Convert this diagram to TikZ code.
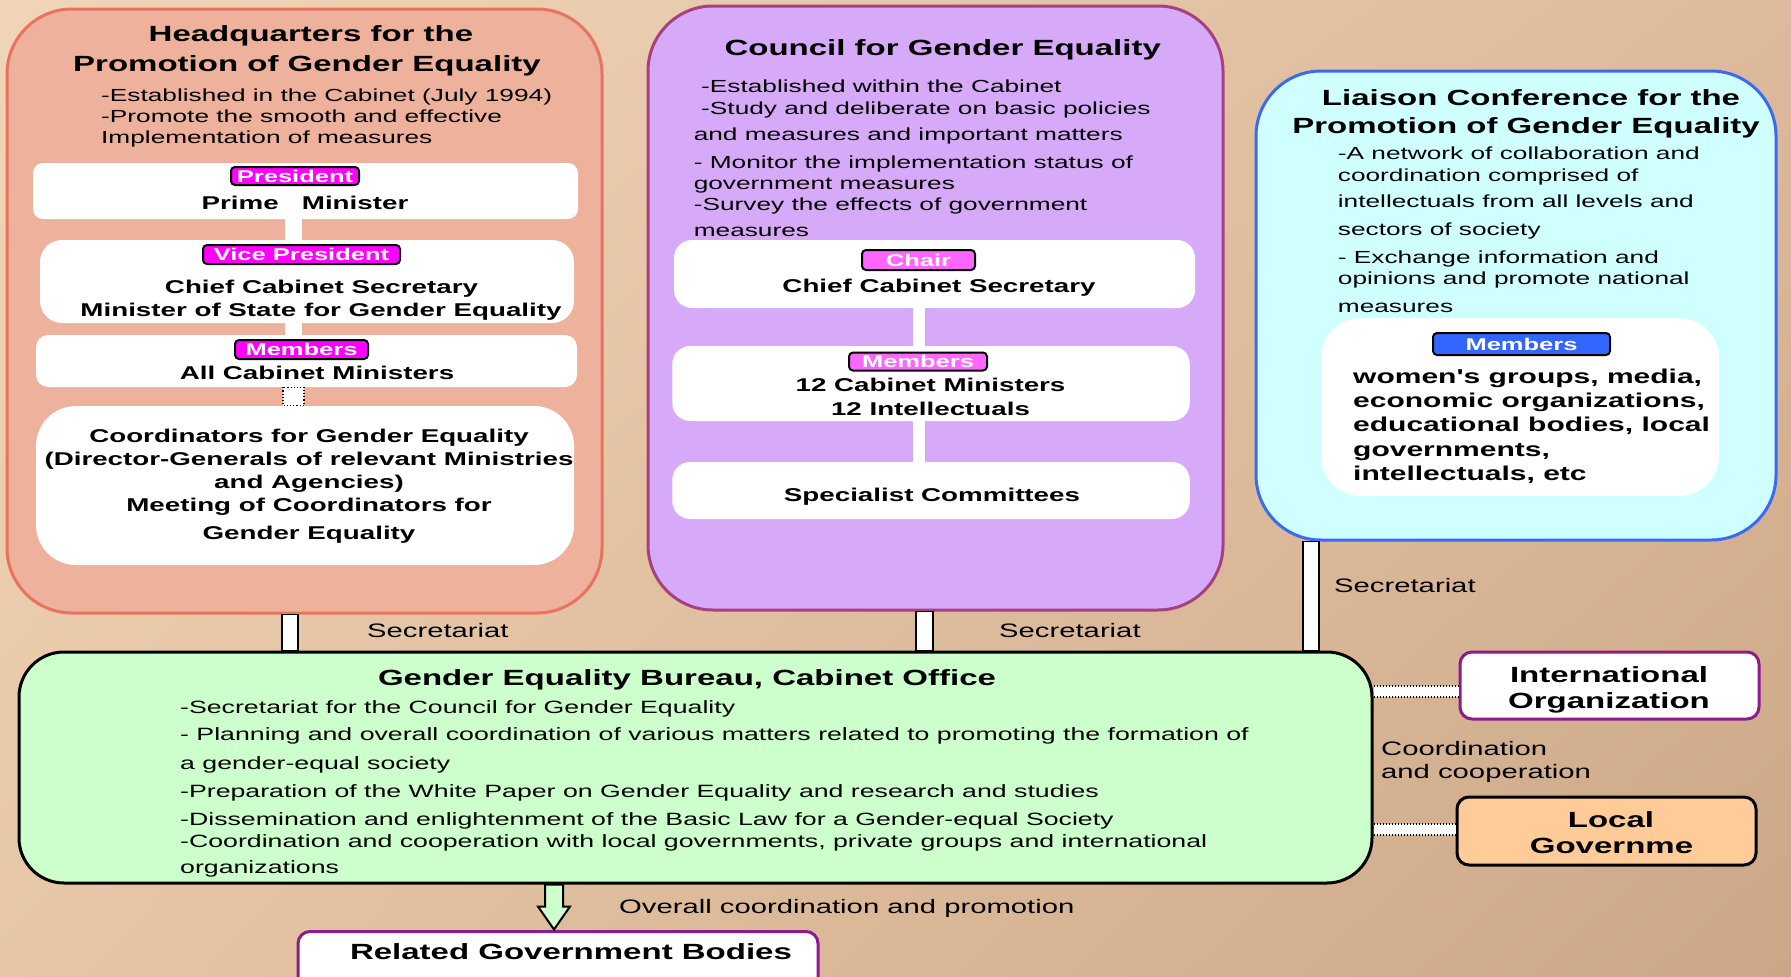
\documentclass[tikz,border=0pt]{standalone}
\usepackage{fontspec}
\setmainfont{Liberation Sans}[FakeStretch=1.5, Ligatures=TeXOff]
\usetikzlibrary{shadings}

\definecolor{bgA}{HTML}{F1D5B8}
\definecolor{bgB}{HTML}{DDBA9B}
\definecolor{bgC}{HTML}{E6C6A6}
\definecolor{bgD}{HTML}{CBA787}
\definecolor{hqfill}{HTML}{EDB19C}
\definecolor{hqline}{HTML}{E9735E}
\definecolor{hqtag}{HTML}{FF00FF}
\definecolor{cgfill}{HTML}{D7AAF9}
\definecolor{cgline}{HTML}{A5427D}
\definecolor{cgtag}{HTML}{FF66FF}
\definecolor{lcfill}{HTML}{CFFFFF}
\definecolor{lcline}{HTML}{3A6AF0}
\definecolor{lctag}{HTML}{3366FF}
\definecolor{gbfill}{HTML}{CCFFCC}
\definecolor{lgfill}{HTML}{FFCC99}
\definecolor{purp}{HTML}{8E1B8E}

\begin{document}
\begin{tikzpicture}[x=1pt, y=-1pt,
    outer/.style={line width=3, inner sep=0},
    inbox/.style={fill=white, inner sep=0},
    tag/.style={draw=black, line width=2, rounded corners=4, inner sep=0, text=white,
      font=\bfseries\fontsize{17}{17}\selectfont},
    ttl/.style={inner sep=0, anchor=base, font=\bfseries\fontsize{22}{22}\selectfont},
    strong/.style={inner sep=0, anchor=base, font=\bfseries\fontsize{18.5}{18.5}\selectfont},
    mtext/.style={inner sep=0, anchor=base west, font=\bfseries\fontsize{20}{20}\selectfont},
    desc/.style={inner sep=0, anchor=base west, font=\fontsize{17.5}{17.5}\selectfont},
    bdesc/.style={inner sep=0, anchor=base west, font=\fontsize{17.8}{17.8}\selectfont},
    note/.style={inner sep=0, anchor=base west, font=\fontsize{19.5}{19.5}\selectfont},
    bar/.style={draw=black, fill=white, line width=1.5},
    link/.style={draw=black, line width=1.8, dash pattern=on 1.6pt off 1.4pt}]

    % 背景
    \useasboundingbox (0,0) rectangle (1791,977);
    \clip (0,0) rectangle (1791,977);
    \shade[upper left=bgA, upper right=bgB, lower left=bgC, lower right=bgD] (0,0) rectangle (1791,977);

    % 男女共同参画推進本部
    \node[outer, draw=hqline, fill=hqfill, rounded corners=65, minimum width=595, minimum height=604] (hq) at (304.5,311) {};
    \node[ttl] (hqt1) at (311,41.5) {Headquarters for the};
    \node[ttl] (hqt2) at (307,71) {Promotion of Gender Equality};
    \foreach \y/\t [count=\i] in {101/{-Established in the Cabinet (July 1994)},
        122.5/{-Promote the smooth and effective}, 143/{Implementation of measures}}
        \node[desc] (hqd\i) at (101,\y) {\t};

    \node[inbox, rounded corners=10, minimum width=545, minimum height=56] (pres) at (305.5,191) {};
    \node[tag, fill=hqtag, minimum width=128, minimum height=18] (presl) at (295,176) {President};
    \node[strong] (prest) at (305,209) {Prime~~~Minister};

    \node[inbox, rounded corners=22, minimum width=534, minimum height=83] (vp) at (307,281.5) {};
    \node[tag, fill=hqtag, minimum width=197, minimum height=19] (vpl) at (301.5,254.5) {Vice President};
    \node[strong] (vpt1) at (321.5,293) {Chief Cabinet Secretary};
    \node[strong] (vpt2) at (321,316) {Minister of State for Gender Equality};

    \node[inbox, rounded corners=12, minimum width=541, minimum height=52] (mem) at (306.5,361) {};
    \node[tag, fill=hqtag, minimum width=133, minimum height=19] (meml) at (301.5,349.5) {Members};
    \node[strong] (memt) at (317,379) {All Cabinet Ministers};

    \node[inbox, rounded corners=40, minimum width=538, minimum height=159] (coord) at (305,485.5) {};
    \foreach \y/\t [count=\i] in {442/{Coordinators for Gender Equality},
        465/{(Director-Generals of relevant Ministries}, 488/{and Agencies)},
        511/{Meeting of Coordinators for}, 539/{Gender Equality}}
        \node[strong] (coordt\i) at (309,\y) {\t};

    \coordinate (hqL) at (285,0);
    \coordinate (hqR) at (302,0);
    \fill[white] (pres.south -| hqL) rectangle (vp.north -| hqR);
    \fill[white] (vp.south -| hqL) rectangle (mem.north -| hqR);
    \coordinate (dotL) at (283,0);
    \coordinate (dotR) at (304,0);
    \draw[fill=white, dotted, line width=1.2] (mem.south -| dotL) rectangle (coord.north -| dotR);

    % 男女共同参画会議
    \node[outer, draw=cgline, fill=cgfill, rounded corners=65, minimum width=575, minimum height=604] (cg) at (935.5,308) {};
    \node[ttl] (cgt) at (942.7,55) {Council for Gender Equality};
    \foreach \x/\y/\t [count=\i] in {701/92/{-Established within the Cabinet},
        701/114/{-Study and deliberate on basic policies},
        693.6/140.4/{and measures and important matters},
        693.6/168/{- Monitor the implementation status of},
        693.6/189/{government measures},
        693.6/210/{-Survey the effects of government},
        693.6/236.5/{measures}}
        \node[desc] (cgd\i) at (\x,\y) {\t};

    \node[inbox, rounded corners=18, minimum width=521, minimum height=68] (chair) at (934.5,274) {};
    \node[tag, fill=cgtag, minimum width=113, minimum height=20] (chairl) at (918.5,260) {Chair};
    \node[strong] (chairt) at (939,292.6) {Chief Cabinet Secretary};

    \node[inbox, rounded corners=18, minimum width=517.5, minimum height=75] (cmem) at (931,383.5) {};
    \node[tag, fill=cgtag, minimum width=138, minimum height=18] (cmeml) at (918,361.5) {Members};
    \node[strong] (cmemt1) at (930.5,391.5) {12 Cabinet Ministers};
    \node[strong] (cmemt2) at (930.5,415) {12 Intellectuals};

    \node[inbox, rounded corners=18, minimum width=517.5, minimum height=57] (spec) at (931,490.5) {};
    \node[strong] (spect) at (932,501) {Specialist Committees};

    \coordinate (cgL) at (913,0);
    \coordinate (cgR) at (925,0);
    \fill[white] (chair.south -| cgL) rectangle (cmem.north -| cgR);
    \fill[white] (cmem.south -| cgL) rectangle (spec.north -| cgR);

    % 男女共同参画推進連携会議
    \node[outer, draw=lcline, fill=lcfill, rounded corners=65, minimum width=520, minimum height=469] (lc) at (1516,305.5) {};
    \node[ttl] (lct1) at (1531,105) {Liaison Conference for the};
    \node[ttl] (lct2) at (1526,133) {Promotion of Gender Equality};
    \foreach \y/\t [count=\i] in {159/{-A network of collaboration and},
        181/{coordination comprised of}, 207/{intellectuals from all levels and},
        235/{sectors of society}, 263/{- Exchange information and},
        284.5/{opinions and promote national}, 312/{measures}}
        \node[desc] (lcd\i) at (1337.7,\y) {\t};

    \node[inbox, rounded corners=40, minimum width=398, minimum height=178] (lmem) at (1520,407) {};
    \node[tag, fill=lctag, minimum width=177, minimum height=22] (lmeml) at (1521.5,344) {Members};
    \foreach \y/\t [count=\i] in {383/{women's groups, media,}, 407/{economic organizations,},
        431/{educational bodies, local}, 456/{governments,}, 480/{intellectuals, etc}}
        \node[mtext] (lmemt\i) at (1353,\y) {\t};

    % 男女共同参画局
    \node[outer, draw=black, fill=gbfill, rounded corners=45, minimum width=1353, minimum height=231] (bur) at (695.5,767.5) {};
    \node[ttl] (burt) at (687,685) {Gender Equality Bureau, Cabinet Office};
    \foreach \y/\t [count=\i] in {713/{-Secretariat for the Council for Gender Equality},
        740/{- Planning and overall coordination of various matters related to promoting the formation of},
        769/{a gender-equal society},
        797/{-Preparation of the White Paper on Gender Equality and research and studies},
        825/{-Dissemination and enlightenment of the Basic Law for a Gender-equal Society},
        847/{-Coordination and cooperation with local governments, private groups and international},
        873/{organizations}}
        \node[bdesc] (burd\i) at (180,\y) {\t};

    % 事務局
    \coordinate (s1L) at (282,0);
    \coordinate (s1R) at (298,0);
    \coordinate (s2L) at (916,0);
    \coordinate (s2R) at (933,0);
    \coordinate (s3L) at (1303,0);
    \coordinate (s3R) at (1319,0);
    \draw[bar] (hq.south -| s1L) rectangle (bur.north -| s1R);
    \draw[bar] (cg.south -| s2L) rectangle (bur.north -| s2R);
    \draw[bar] (lc.south -| s3L) rectangle (bur.north -| s3R);
    \node[note] (sec1) at (367,637) {Secretariat};
    \node[note] (sec2) at (999,637) {Secretariat};
    \node[note] (sec3) at (1334,592) {Secretariat};

    % 国際機関・地方公共団体
    \node[outer, draw=purp, fill=white, rounded corners=12, minimum width=299, minimum height=67] (intl) at (1609.5,685.5) {};
    \begin{scope}
        \coordinate (cut) at (0,712);
        \clip (intl.north west) rectangle (intl.east |- cut);
        \node[ttl] (intl1) at (1609,682) {International};
        \node[ttl] (intl2) at (1609,708) {Organization};
    \end{scope}
    \node[outer, draw=black, fill=lgfill, rounded corners=12, minimum width=299, minimum height=68] (lgov) at (1606.5,831) {};
    \node[ttl] (lgov1) at (1611,827) {Local};
    \node[ttl] (lgov2) at (1611.5,853) {Governme};

    \coordinate (c1a) at (0,686);
    \coordinate (c1b) at (0,697);
    \coordinate (c2a) at (0,824);
    \coordinate (c2b) at (0,835);
    \fill[white] (bur.east |- c1a) rectangle (intl.west |- c1b);
    \draw[link] (bur.east |- c1a) -- (intl.west |- c1a);
    \draw[link] (bur.east |- c1b) -- (intl.west |- c1b);
    \fill[white] (bur.east |- c2a) rectangle (lgov.west |- c2b);
    \draw[link] (bur.east |- c2a) -- (lgov.west |- c2a);
    \draw[link] (bur.east |- c2b) -- (lgov.west |- c2b);
    \node[note] (coop1) at (1381,755) {Coordination};
    \node[note] (coop2) at (1381,778) {and cooperation};

    % 関係行政機関
    \node[outer, draw=purp, fill=white, rounded corners=12, minimum width=520, minimum height=80, anchor=north] (rel) at (558,930) {};
    \node[ttl] (relt) at (571,959) {Related Government Bodies};
    \coordinate (ar) at (554,0);
    \draw[line width=2, fill=gbfill] (bur.south -| ar) ++(-9,0) -- ++(0,22) -- ++(-7,0) -- ++(16,23)
        -- ++(16,-23) -- ++(-7,0) -- ++(0,-22) -- cycle;
    \node[note] (ovr) at (619,913) {Overall coordination and promotion};

\end{tikzpicture}
\end{document}
